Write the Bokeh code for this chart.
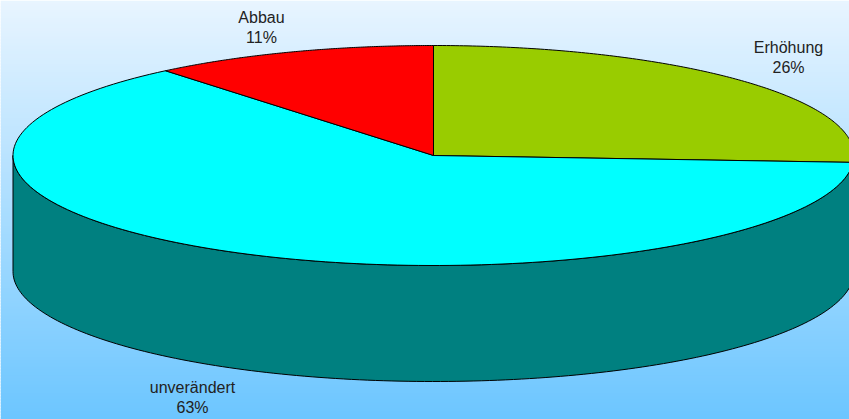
import numpy as np
from bokeh.plotting import figure
from bokeh.models import Range1d
from bokeh.core.properties import value
from bokeh.embed import file_html
from bokeh.resources import INLINE

# Data
categories = ["Erhöhung", "unverändert", "Abbau"]
shares = [26, 63, 11]
percent_labels = ["26%", "63%", "11%"]
top_colors = ["#99CC00", "#00FFFF", "#FF0000"]
side_colors = ["#4D6600", "#008080", "#800000"]
label_x = [788, 192, 261]
label_y = [47, 387, 17]

# Layout (reference pixel coordinates)
W, H = 849, 419
cx, cy, rx, ry, depth = 433.0, 155.0, 420.5, 110.0, 116.0

p = figure(width=W, height=H, output_backend="svg", toolbar_location=None,
           x_range=Range1d(0, W), y_range=Range1d(H, 0), min_border=0)
p.axis.visible = False
p.grid.visible = False
p.outline_line_color = None

# Background gradient
c0, c1 = np.array([232, 245, 255]), np.array([108, 198, 255])
edges = np.arange(0, H + 3, 3)
p.quad(left=0, right=W, top=edges[:-1], bottom=edges[1:] + 1,
       color=["#%02x%02x%02x" % tuple(int(v) for v in c0 + (c1 - c0) * (e / H)) for e in edges[:-1]],
       line_color=None)

def pt(a, dy=0.0):
    return cx + rx * np.sin(a), cy - ry * np.cos(a) + dy

fracs = np.array(shares, dtype=float) / sum(shares)
ends = np.cumsum(fracs) * 2 * np.pi
starts = np.concatenate([[0], ends[:-1]])

# Walls: the front half of the cylinder (angles 90..270 degrees clockwise from top)
for s, e, col in zip(starts, ends, side_colors):
    lo, hi = max(s, np.pi / 2), min(e, 3 * np.pi / 2)
    if hi <= lo:
        continue
    a = np.linspace(lo, hi, 160)
    x1, y1 = pt(a)
    x2, y2 = pt(a[::-1], depth)
    p.patch(np.concatenate([x1, x2]), np.concatenate([y1, y2]),
            fill_color=col, line_color="black", line_width=1)

# Top faces
for s, e, col in zip(starts, ends, top_colors):
    a = np.linspace(s, e, 160)
    x, y = pt(a)
    p.patch(np.concatenate([[cx], x]), np.concatenate([[cy], y]),
            fill_color=col, line_color="black", line_width=1)

# Labels
common = dict(text_font=value("Liberation Sans"), text_font_size="16px", text_color="#222222",
              text_align="center", text_baseline="middle")
p.text(label_x, label_y, text=categories, **common)
p.text(label_x, [v + 20 for v in label_y], text=percent_labels, **common)

open("out.html", "w").write(file_html(p, INLINE))
